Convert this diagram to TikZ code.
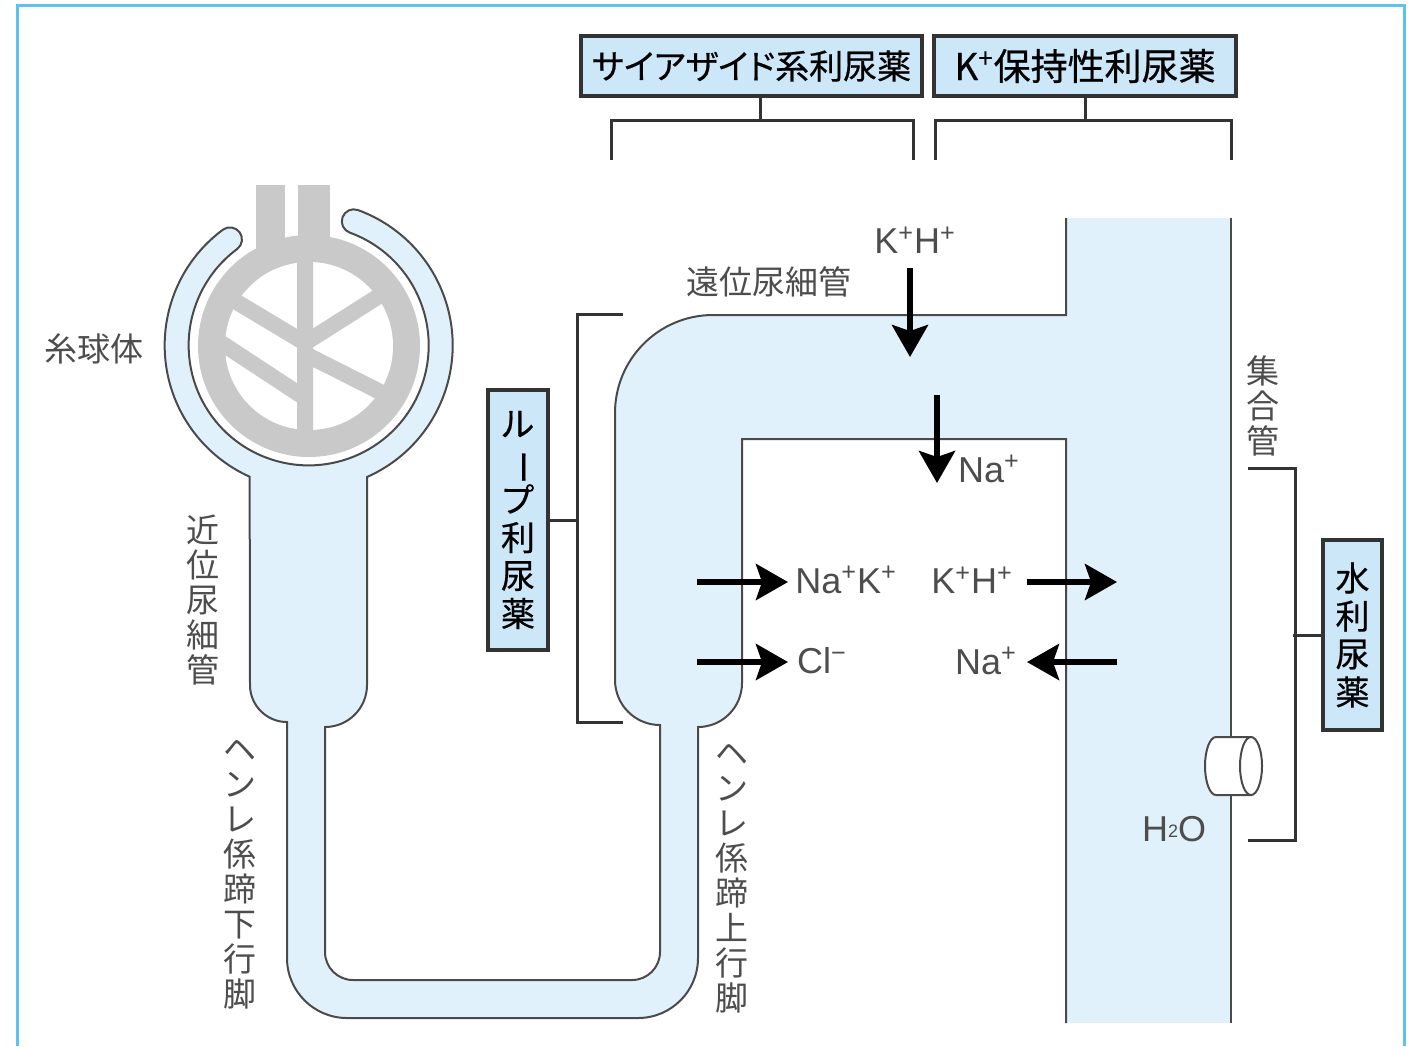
\documentclass[tikz,border=0pt]{standalone}
\usepackage{fontspec}
\setmainfont{Liberation Sans}
\newfontfamily\jp{Noto Sans CJK JP}[RawFeature=+palt]
\newfontfamily\jpb{Noto Sans CJK JP}[RawFeature=+palt,FakeBold=0.5]
\usetikzlibrary{arrows.meta}

\definecolor{tube}{HTML}{E1F1FB}
\definecolor{boxfill}{HTML}{CBE7F8}
\definecolor{framec}{HTML}{5EC2EF}
\definecolor{glom}{HTML}{C9C9C9}
\definecolor{ink}{HTML}{333333}
\definecolor{wallc}{HTML}{4A4A4A}
\definecolor{lbl}{HTML}{4D4D4D}

\newcommand{\chg}[1]{\textsuperscript{#1}}

\tikzstyle{drug} = [rectangle, draw=ink, line width=1.8pt, fill=boxfill,
    inner sep=0pt, text=black, align=center, font=\jpb\fontsize{17}{19}\selectfont]
\tikzstyle{lab} = [inner sep=0pt, text=lbl, align=center,
    font=\jp\fontsize{16.5}{17.5}\selectfont]
\tikzstyle{ion} = [inner sep=0pt, text=lbl, font=\fontsize{18}{20}\selectfont]
\tikzstyle{brk} = [draw=ink, line width=1.5pt]
\tikzstyle{flow} = [draw=black, line width=2.8pt,
    -{Stealth[length=16pt,width=18pt,inset=3pt]}]
\tikzstyle{wall} = [draw=wallc, line width=1pt]

\begin{document}
\begin{tikzpicture}[x=0.5pt,y=-0.5pt]
  \useasboundingbox (0,0) rectangle (1412,1046);
  \draw[framec, line width=1.5pt] (17,1046) -- (17,5) -- (1404,5) -- (1404,1046);

  % collecting duct and nephron
  \fill[tube] (1066,218) rectangle (1231,1023);
  \draw[wall, fill=tube]
    (1066,218) -- (1066,315) -- (713,315)
    arc[start angle=270, end angle=180, radius=98]
    -- (615,680)
    arc[start angle=180, end angle=90, radius=45]
    -- (660,952)
    arc[start angle=0, end angle=90, radius=28]
    -- (353,980)
    arc[start angle=90, end angle=180, radius=28]
    -- (325,727)
    arc[start angle=90, end angle=0, radius=42]
    -- (367,477)
    arc[start angle=66.1, end angle=-70, radius=144]
    arc[start angle=-70, end angle=-250, radius=12]
    arc[start angle=-70, end angle=233.4, radius=120]
    arc[start angle=413.4, end angle=233.4, radius=12]
    arc[start angle=233.4, end angle=114.2, radius=144]
    -- (250,685)
    arc[start angle=180, end angle=90, radius=37]
    -- (287,958)
    arc[start angle=180, end angle=90, radius=60]
    -- (638,1018)
    arc[start angle=90, end angle=0, radius=60]
    -- (698,727)
    arc[start angle=90, end angle=0, radius=44]
    -- (742,439) -- (1066,439) -- (1066,1023);
  \draw[wall] (1231,218) -- (1231,1023);

  % glomerulus
  \fill[glom] (256,185) rectangle (285,262);
  \fill[glom] (298,185) rectangle (330,262);
  \fill[glom] (309,346) circle[radius=111];
  \fill[white] (309,346) circle[radius=84];
  \begin{scope}
    \clip (309,346) circle[radius=100];
    \draw[glom, line width=8pt]
      (305,240) -- (305,452)
      (200,280) -- (305,343)
      (200,329) -- (305,398)
      (420,270) -- (305,343)
      (305,354) -- (420,412);
  \end{scope}

  % water channel
  \draw[wall, fill=white] (1251,737) -- (1216,737)
    arc[start angle=-90, end angle=-270, x radius=11, y radius=29]
    -- (1251,795) -- cycle;
  \draw[wall, fill=white] (1251,766) ellipse[x radius=11, y radius=29];

  % labels
  \node[lab] (glo) at (94,349) {糸球体};
  \node[lab] (pct) at (203,600) {近\\位\\尿\\細\\管};
  \node[lab] (dsc) at (240,874) {ヘ\\ン\\レ\\係\\蹄\\下\\行\\脚};
  \node[lab] (asc) at (732,878) {ヘ\\ン\\レ\\係\\蹄\\上\\行\\脚};
  \node[lab] (dct) at (769,282) {遠位尿細管};
  \node[lab] (cdt) at (1263,406) {集\\合\\管};

  \node[ion] (kh1) at (915,240) {K\chg{+}H\chg{+}};
  \node[ion] (na1) at (989,469) {Na\chg{+}};
  \node[ion] (nak) at (846,580) {Na\chg{+}K\chg{+}};
  \node[ion] (kh2) at (972,580) {K\chg{+}H\chg{+}};
  \node[ion] (cl)  at (822,661) {Cl\chg{−}};
  \node[ion] (na2) at (986,661) {Na\chg{+}};
  \node[ion] (h2o) at (1174,829) {H\raisebox{.1em}{\fontsize{9}{9}\selectfont 2}O};

  % ion transport
  \coordinate (k1a) at (910,268);  \coordinate (k1b) at (910,357);
  \coordinate (n1a) at (937,395);  \coordinate (n1b) at (937,483);
  \coordinate (nka) at (697,582);  \coordinate (nkb) at (788,582);
  \coordinate (cla) at (697,662);  \coordinate (clb) at (788,662);
  \coordinate (kha) at (1027,582); \coordinate (khb) at (1117,582);
  \coordinate (n2a) at (1117,662); \coordinate (n2b) at (1027,662);
  \draw[flow] (k1a) -- (k1b);
  \draw[flow] (n1a) -- (n1b);
  \draw[flow] (nka) -- (nkb);
  \draw[flow] (cla) -- (clb);
  \draw[flow] (kha) -- (khb);
  \draw[flow] (n2a) -- (n2b);

  % diuretics
  \node[drug, minimum width=170.5pt, minimum height=30pt] (thz) at (751.5,66) {サイアザイド系利尿薬};
  \node[drug, minimum width=151pt, minimum height=30pt,
        font=\jpb\fontsize{18.5}{19}\selectfont] (ksp) at (1085,66) {K\chg{+}保持性利尿薬};
  \node[drug, minimum width=30pt, minimum height=130pt] (lpd) at (518,520)
    {ル\\\rotatebox[origin=c]{-90}{ー}\\プ\\利\\尿\\薬};
  \node[drug, minimum width=29.5pt, minimum height=95pt] (wtd) at (1352.5,635) {水\\利\\尿\\薬};

  \coordinate (tz1) at (611,160);  \coordinate (tz2) at (913,160);
  \coordinate (ks1) at (935,160);  \coordinate (ks2) at (1231,160);
  \coordinate (lp1) at (623,314);  \coordinate (lp2) at (623,722);
  \coordinate (wt1) at (1248,468); \coordinate (wt2) at (1248,840);
  \draw[brk] ([xshift=4.5pt]thz.south) -- ++(0,24);
  \draw[brk] (tz1) -- ++(0,-40) -| (tz2);
  \draw[brk] (ksp.south) -- ++(0,24);
  \draw[brk] (ks1) -- ++(0,-40) -| (ks2);
  \draw[brk] (lpd.east) -- ++(29,0);
  \draw[brk] (lp1) -| (577,517) |- (lp2);
  \draw[brk] (wtd.west) -- ++(-28,0);
  \draw[brk] (wt1) -| (1295,637) |- (wt2);
\end{tikzpicture}
\end{document}
